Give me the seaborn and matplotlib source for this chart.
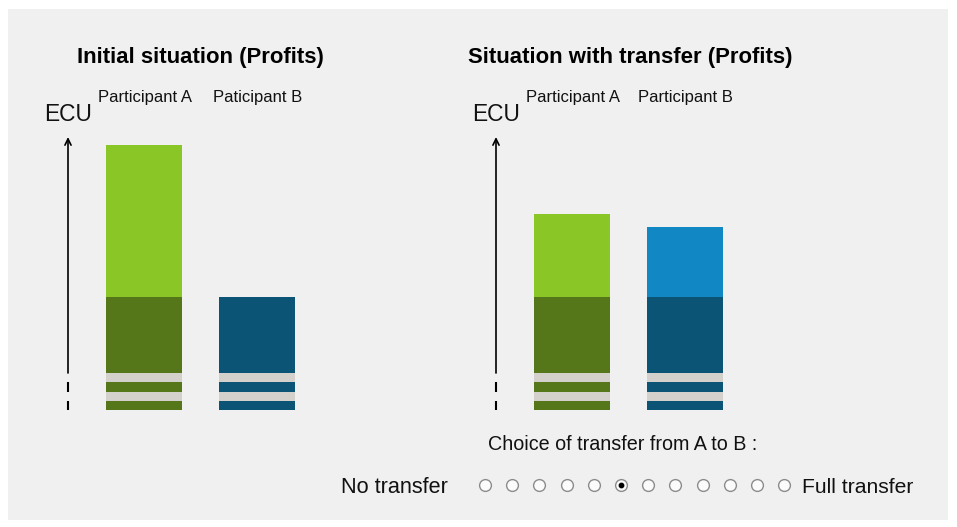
import matplotlib
matplotlib.use("Agg")
import matplotlib.pyplot as plt
from matplotlib.patches import Rectangle
import seaborn as sns
import numpy as np
import pandas as pd

# ---------------- data ----------------
left_labels = ["Participant A", "Paticipant B"]
right_labels = ["Participant A", "Participant B"]
participants = ["A", "B"]
# axis-break pattern at the bottom of the bars (dark, grey, dark, grey), from bottom
break_segments = [9, 9, 10, 9]
base_profit = [76, 76]          # dark part above the break
initial_extra = [152, 0]        # light part, initial situation
transfer_extra = [83, 70]       # light part, situation with transfer
axis_top = 273
n_choices = 12
selected_choice = 5

# ---------------- style ----------------
sns.set_style("white")
plt.rcParams["font.family"] = ["Liberation Sans", "DejaVu Sans"]

W, H = 957, 527
fig = plt.figure(figsize=(W / 100, H / 100), dpi=100)
fig.patch.set_facecolor("white")

bg = fig.add_axes([0, 0, 1, 1])
bg.set_xlim(0, W)
bg.set_ylim(H, 0)
bg.axis("off")
bg.add_patch(Rectangle((8, 9), 940, 511, facecolor="#f0f0f0", edgecolor="none", zorder=0))

light = {"A": "#8ac626", "B": "#1187c3"}
dark = {"A": "#55771a", "B": "#0b5475"}
stripe = "#d4d0cb"

bar_w = 76 / 113
px_per_cat = 113


def panel(x_left_px, extra, labels, label_b_off, title, title_cx):
    # axes covering 300 px horizontally, y pixels 130..410
    ax = fig.add_axes([x_left_px / W, (H - 410) / H, 300 / W, 280 / H])
    ax.set_facecolor("none")

    b = np.cumsum(break_segments)
    top_dark = b[-1] + np.array(base_profit)
    total = top_dark + np.array(extra)
    layers = [
        (total, light, None),
        (top_dark, dark, None),
        ([b[3]] * 2, None, stripe),
        ([b[2]] * 2, dark, None),
        ([b[1]] * 2, None, stripe),
        ([b[0]] * 2, dark, None),
    ]
    for vals, pal, col in layers:
        df = pd.DataFrame({"p": participants, "v": vals})
        if pal is not None:
            sns.barplot(data=df, x="p", y="v", hue="p", palette=pal, saturation=1,
                        width=bar_w, legend=False, ax=ax, linewidth=0, errorbar=None)
        else:
            sns.barplot(data=df, x="p", y="v", color=col, saturation=1,
                        width=bar_w, ax=ax, linewidth=0, errorbar=None)
    ax.set_xlim(-104 / px_per_cat, 1 + 83 / px_per_cat)
    ax.set_ylim(0, 280)
    ax.axis("off")

    xa = -76 / px_per_cat
    ax.annotate("", xy=(xa, axis_top), xytext=(xa, b[-1]),
                arrowprops=dict(arrowstyle="->,head_length=0.45,head_width=0.22",
                                lw=1.2, color="black", shrinkA=0, shrinkB=0))
    ax.vlines([xa, xa], [0, b[1]], [b[0], b[2]], color="black", lw=1.5)

    # texts
    bg.text(title_cx, 63, title, ha="center", va="baseline", fontsize=15.9,
            fontweight="bold", color="black")
    bg.text(x_left_px + 4, 121, "ECU", ha="left", va="baseline", fontsize=16.4, color="#111111")
    bg.text(x_left_px + 58, 102, labels[0], ha="left", va="baseline", fontsize=12, color="#111111")
    bg.text(x_left_px + label_b_off, 102, labels[1], ha="left", va="baseline", fontsize=12,
            color="#111111")


panel(40, initial_extra, left_labels, 173, "Initial situation (Profits)", 200.5)
panel(468, transfer_extra, right_labels, 170, "Situation with transfer (Profits)", 630)

# transfer choice
bg.text(488, 450, "Choice of transfer from A to B :", ha="left", va="baseline",
        fontsize=14.2, color="#111111")
bg.text(341, 493, "No transfer", ha="left", va="baseline", fontsize=15.6, color="#111111")
bg.text(802, 493, "Full transfer", ha="left", va="baseline", fontsize=15.2, color="#111111")

xs = 485 + 27.2 * np.arange(n_choices)
bg.scatter(xs, [485] * n_choices, s=72, facecolor="#fbfbfb", edgecolor="#8c8c8c",
           linewidth=1.0, zorder=3)
bg.scatter([xs[selected_choice]], [485], s=10, color="black", zorder=4)

fig.savefig("out.png", dpi=100, facecolor="white")
